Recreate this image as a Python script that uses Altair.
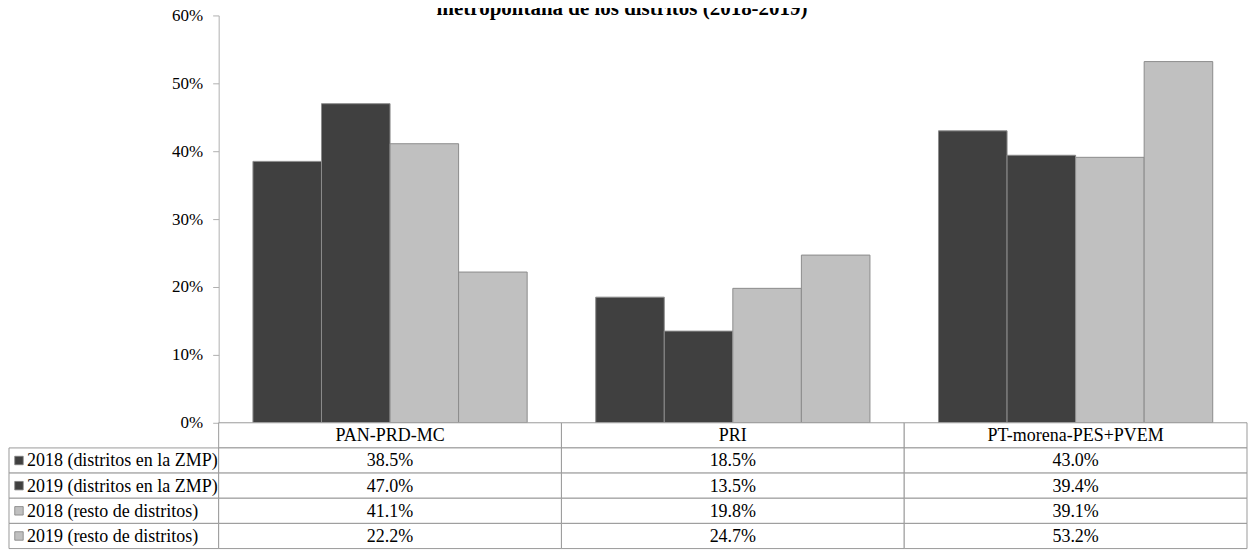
import altair as alt
import pandas as pd

# ---- data ----
categories = ["PAN-PRD-MC", "PRI", "PT-morena-PES+PVEM"]
series = [
    "2018 (distritos en la ZMP)",
    "2019 (distritos en la ZMP)",
    "2018 (resto de distritos)",
    "2019 (resto de distritos)",
]
v2018_zmp = [38.5, 18.5, 43.0]
v2019_zmp = [47.0, 13.5, 39.4]
v2018_resto = [41.1, 19.8, 39.1]
v2019_resto = [22.2, 24.7, 53.2]
series_colors = ["#404040", "#404040", "#c0c0c0", "#c0c0c0"]
y_ticks = [0, 0.1, 0.2, 0.3, 0.4, 0.5, 0.6]
title_text = "metropolitana de los distritos (2018-2019)"

values = [v2018_zmp, v2019_zmp, v2018_resto, v2019_resto]
rows = []
for s, vals in zip(series, values):
    for c, v in zip(categories, vals):
        rows.append({"cat": c, "series": s, "value": v})
df = pd.DataFrame(rows)

table_rows = ["header"] + series

FONT = "Times New Roman, Liberation Serif, DejaVu Serif, serif"
LINE = "#9a9a9a"
TFS = 18

color_scale = alt.Scale(domain=series, range=series_colors)

# ---- bar chart (top right) ----
W_PLOT = 1030
H_PLOT = 408
W_LEFT = 210
H_TABLE = 126

y_scale = alt.Scale(domain=[0, 0.6], nice=False, zero=True)

bars = alt.Chart(df).transform_calculate(
    frac="datum.value / 100"
).mark_bar(stroke="#8c8c8c", strokeWidth=1).encode(
    x=alt.X("cat:N", sort=categories,
            scale=alt.Scale(paddingInner=0.2, paddingOuter=0.1), axis=None),
    xOffset=alt.XOffset("series:N", sort=series,
                        scale=alt.Scale(paddingInner=0, paddingOuter=0)),
    y=alt.Y("frac:Q", scale=y_scale,
            axis=alt.Axis(values=y_ticks, format=".0%", domain=True,
                          domainColor="#b0b0b0", grid=False,
                          ticks=True, tickSize=6, tickColor="#b0b0b0",
                          labelFont=FONT, labelFontSize=17, labelColor="#000000",
                          labelPadding=10, title=None)),
    color=alt.Color("series:N", scale=color_scale, legend=None),
)

title_mark = alt.Chart(pd.DataFrame({"t": [title_text]})).mark_text(
    font=FONT, fontWeight="bold", fontSize=21,
    align="center", baseline="alphabetic", color="#000000"
).encode(
    x=alt.value(622 - 218),
    y=alt.value(0),
    text="t:N",
)

top_right = alt.layer(bars, title_mark).properties(
    width=W_PLOT, height=H_PLOT
)

# ---- empty top left ----
top_left = alt.Chart(pd.DataFrame({"a": [0]})).mark_text(text="").encode(
    x=alt.value(0), y=alt.value(0)
).properties(width=W_LEFT, height=H_PLOT)

# ---- value table (bottom right) ----
cells = pd.DataFrame([{"cat": c, "row": r} for c in categories for r in table_rows])
x_tab = alt.X("cat:N", sort=categories,
              scale=alt.Scale(paddingInner=0, paddingOuter=0), axis=None)
y_tab = alt.Y("row:N", sort=table_rows,
              scale=alt.Scale(domain=table_rows, paddingInner=0, paddingOuter=0),
              axis=None)

cell_rects = alt.Chart(cells).mark_rect(
    fill="#ffffff", stroke=LINE, strokeWidth=1
).encode(x=x_tab, y=y_tab)

header_df = pd.DataFrame({"cat": categories, "row": ["header"] * len(categories)})
header_text = alt.Chart(header_df).mark_text(
    font=FONT, fontSize=TFS, color="#000000", baseline="middle", dy=1
).encode(x=x_tab, y=y_tab, text="cat:N")

val_text = alt.Chart(df).transform_calculate(
    frac="datum.value / 100", row="datum.series"
).mark_text(
    font=FONT, fontSize=TFS, color="#000000", baseline="middle", dy=1
).encode(x=x_tab, y=y_tab, text=alt.Text("frac:Q", format=".1%"))

bottom_right = alt.layer(cell_rects, header_text, val_text).properties(
    width=W_PLOT, height=H_TABLE
)

# ---- label table (bottom left) ----
lab_df = pd.DataFrame({"row": series, "series": series})
lab_rects = alt.Chart(lab_df).mark_rect(
    fill="#ffffff", stroke=LINE, strokeWidth=1
).encode(x=alt.value(0), x2=alt.value(W_LEFT), y=y_tab)

lab_squares = alt.Chart(lab_df).mark_square(
    size=72, opacity=1, stroke="#7f7f7f", strokeWidth=0.8
).encode(
    x=alt.value(10), y=y_tab,
    color=alt.Color("series:N", scale=color_scale, legend=None),
)

lab_text = alt.Chart(lab_df).mark_text(
    font=FONT, fontSize=TFS, color="#000000", align="left", baseline="middle", dy=1
).encode(x=alt.value(18), y=y_tab, text="series:N")

bottom_left = alt.layer(lab_rects, lab_squares, lab_text).properties(
    width=W_LEFT, height=H_TABLE
)

chart = alt.concat(
    top_left, top_right, bottom_left, bottom_right,
    columns=2, spacing=0, bounds="flush"
).properties(
    padding={"top": -11, "left": 0, "right": 0, "bottom": 0}
).configure(
    background="#ffffff",
    view=alt.ViewConfig(stroke="transparent"),
)

chart.save("out.html", embed_options={"renderer": "svg", "actions": False})
